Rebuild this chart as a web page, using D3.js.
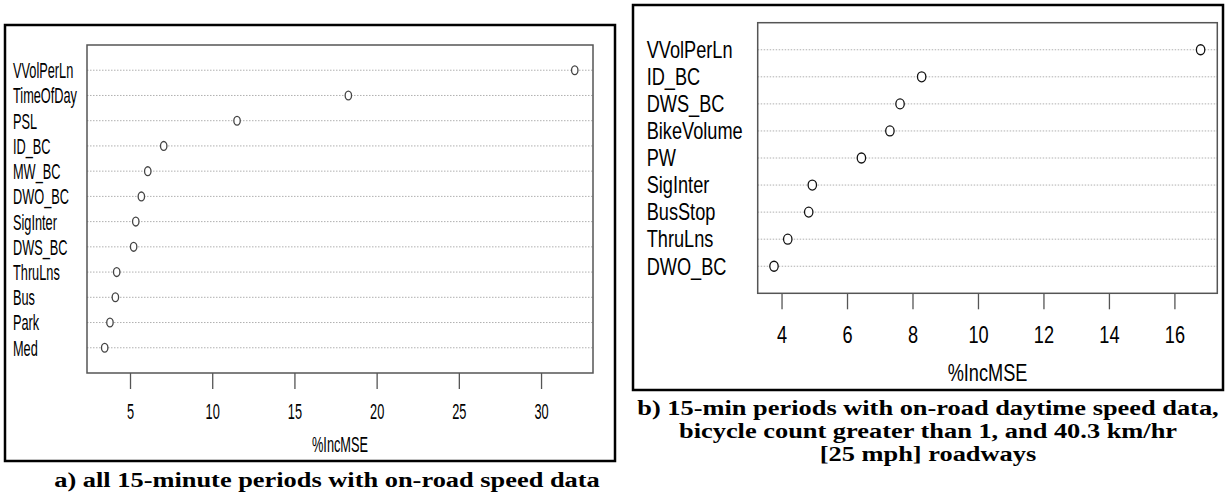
<!DOCTYPE html>
<html>
<head>
<meta charset="utf-8">
<script src="https://cdn.jsdelivr.net/npm/d3@7"></script>
<style>
  html, body { margin: 0; padding: 0; background: #fff; }
  svg { display: block; }
</style>
</head>
<body>
<svg id="chart" width="1225" height="496"></svg>
<script>
'use strict';

// panel a) all 15-minute periods
var namesA = ['VVolPerLn', 'TimeOfDay', 'PSL', 'ID_BC', 'MW_BC', 'DWO_BC',
              'SigInter', 'DWS_BC', 'ThruLns', 'Bus', 'Park', 'Med'];
var valuesA = [32.05, 18.28, 11.51, 7.05, 6.08, 5.69, 5.35, 5.22, 4.19, 4.11, 3.78, 3.46];
var ticksA = [5, 10, 15, 20, 25, 30];
var captionA = ['a) all 15-minute periods with on-road speed data'];

// panel b) daytime, bicycle count > 1, 25 mph roadways
var namesB = ['VVolPerLn', 'ID_BC', 'DWS_BC', 'BikeVolume', 'PW', 'SigInter',
              'BusStop', 'ThruLns', 'DWO_BC'];
var valuesB = [16.80, 8.28, 7.62, 7.31, 6.44, 4.94, 4.83, 4.19, 3.77];
var ticksB = [4, 6, 8, 10, 12, 14, 16];
var captionB = ['b) 15-min periods with on-road daytime speed data,',
                'bicycle count greater than 1, and 40.3 km/hr',
                '[25 mph] roadways'];

var XLAB = '%IncMSE';

var svg = d3.select('#chart');

var panelA = {
    outer: { x0: 5, y0: 25, x1: 615, y1: 461 },
    plot: { left: 87, top: 45, right: 593, bottom: 373 },
    domain: [2.384, 33.16],
    labelX: 13, fontSize: 22, sx: 0.58,
    tickLabelY: 419, xlabY: 452,
    rx: 3.2, ry: 4.4, dotStroke: '#444',
    capX: 327, capY: [487]
};

var panelB = {
    outer: { x0: 633, y0: 5, x1: 1223, y1: 390 },
    plot: { left: 757.7, top: 22.7, right: 1217.3, bottom: 293.3 },
    domain: [3.272, 17.31],
    labelX: 646.7, fontSize: 23, sx: 0.79,
    tickLabelY: 343, xlabY: 381,
    rx: 4.2, ry: 5, dotStroke: '#111',
    capX: 928, capY: [415, 438, 461]
};

drawPanel(svg, panelA, namesA, valuesA, ticksA, captionA);
drawPanel(svg, panelB, namesB, valuesB, ticksB, captionB);

function drawPanel(svg, cfg, names, values, ticks, caption) {
    var n = names.length;
    var p = cfg.plot;

    var x = d3.scaleLinear().domain(cfg.domain).range([p.left, p.right]);
    // dotchart layout: first name on top, rows 1..n inside 0..n+1
    var y = d3.scaleLinear().domain([0, n + 1]).range([p.bottom, p.top]);
    var row = function(i) { return y(n - i); };

    var g = svg.append('g');

    // outer frame
    g.append('rect')
        .attr('x', cfg.outer.x0)
        .attr('y', cfg.outer.y0)
        .attr('width', cfg.outer.x1 - cfg.outer.x0)
        .attr('height', cfg.outer.y1 - cfg.outer.y0)
        .attr('fill', 'none')
        .attr('stroke', '#000')
        .attr('stroke-width', 2.5);

    // dotted guide lines
    g.selectAll('line.grid')
        .data(names)
        .enter()
        .append('line')
        .attr('class', 'grid')
        .attr('x1', p.left)
        .attr('x2', p.right)
        .attr('y1', function(d, i) { return row(i); })
        .attr('y2', function(d, i) { return row(i); })
        .attr('stroke', '#b0b0b0')
        .attr('stroke-width', 1)
        .attr('stroke-dasharray', '1.5,1.5');

    // row labels
    g.selectAll('text.name')
        .data(names)
        .enter()
        .append('text')
        .attr('class', 'name')
        .attr('transform', function(d, i) {
            return 'translate(' + cfg.labelX + ',' + (row(i) + cfg.fontSize * 0.36) + ') scale(' + cfg.sx + ',1)';
        })
        .style('font-family', '"Liberation Sans", Arial, sans-serif')
        .style('font-size', cfg.fontSize + 'px')
        .attr('fill', '#000')
        .text(function(d) { return d; });

    // x axis
    var axis = g.append('g')
        .attr('transform', 'translate(0,' + p.bottom + ')')
        .call(d3.axisBottom(x).tickValues(ticks).tickSize(16).tickSizeOuter(0).tickFormat(d3.format('d')));
    axis.select('.domain').remove();
    axis.selectAll('.tick line').attr('stroke', '#555').attr('stroke-width', 1.3);
    axis.selectAll('.tick text')
        .attr('y', cfg.tickLabelY - p.bottom)
        .attr('dy', null)
        .attr('transform', 'scale(' + cfg.sx + ',1)')
        .attr('fill', '#000')
        .style('font-family', '"Liberation Sans", Arial, sans-serif')
        .style('font-size', cfg.fontSize + 'px');

    // plot box
    g.append('rect')
        .attr('x', p.left)
        .attr('y', p.top)
        .attr('width', p.right - p.left)
        .attr('height', p.bottom - p.top)
        .attr('fill', 'none')
        .attr('stroke', '#555')
        .attr('stroke-width', 1.5);

    // points
    g.selectAll('ellipse.pt')
        .data(values)
        .enter()
        .append('ellipse')
        .attr('class', 'pt')
        .attr('cx', function(d) { return x(d); })
        .attr('cy', function(d, i) { return row(i); })
        .attr('rx', cfg.rx)
        .attr('ry', cfg.ry)
        .attr('fill', '#fff')
        .attr('stroke', cfg.dotStroke)
        .attr('stroke-width', 1.3);

    // x label
    g.append('text')
        .attr('transform', 'translate(' + ((p.left + p.right) / 2) + ',' + cfg.xlabY + ') scale(' + cfg.sx + ',1)')
        .attr('text-anchor', 'middle')
        .style('font-family', '"Liberation Sans", Arial, sans-serif')
        .style('font-size', cfg.fontSize + 'px')
        .attr('fill', '#000')
        .text(XLAB);

    // caption (the figure text is stretched a little wider than normal)
    g.selectAll('text.cap')
        .data(caption)
        .enter()
        .append('text')
        .attr('class', 'cap')
        .attr('transform', function(d, i) {
            return 'translate(' + cfg.capX + ',' + cfg.capY[i] + ') scale(1.2,1)';
        })
        .attr('text-anchor', 'middle')
        .style('font-family', '"Liberation Serif", "Times New Roman", serif')
        .style('font-weight', 'bold')
        .style('font-size', '22px')
        .attr('fill', '#000')
        .text(function(d) { return d; });
}
</script>
</body>
</html>
